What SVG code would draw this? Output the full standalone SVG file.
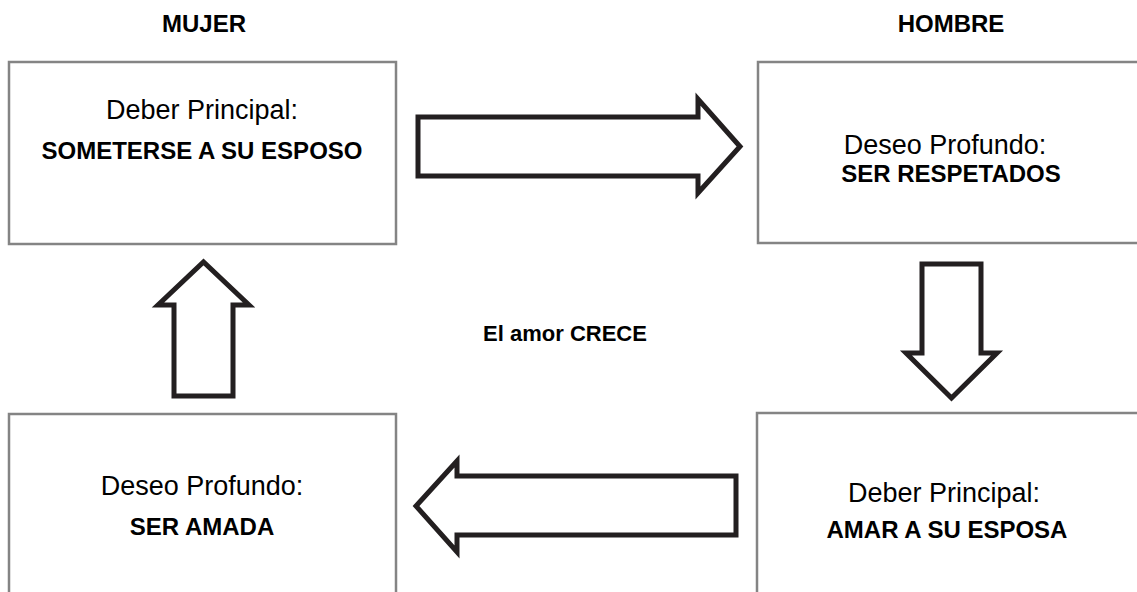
<svg xmlns="http://www.w3.org/2000/svg" width="1137" height="592" viewBox="0 0 1137 592">
<style>
.box{fill:#ffffff;stroke:#848484;stroke-width:2.5}
.arrow{fill:#ffffff;stroke:#231f20;stroke-width:5;stroke-linejoin:miter;stroke-miterlimit:10}
.hd{font-family:"Liberation Sans",Arial,sans-serif;font-weight:bold;font-size:24px;fill:#000;text-anchor:middle}
.reg{font-family:"Liberation Sans",Arial,sans-serif;font-size:27px;fill:#000;text-anchor:middle}
.bold{font-family:"Liberation Sans",Arial,sans-serif;font-weight:bold;font-size:24px;fill:#000;text-anchor:middle}
.mid{font-family:"Liberation Sans",Arial,sans-serif;font-weight:bold;font-size:22px;fill:#000;text-anchor:middle}
</style>
<rect width="1137" height="592" fill="#ffffff"/>
<text class="hd" x="204" y="32">MUJER</text>
<text class="hd" x="951" y="32">HOMBRE</text>
<g id="node-tl">
<rect class="box" x="9" y="62" width="387" height="182"/>
<text class="reg" x="202" y="119">Deber Principal:</text>
<text class="bold" x="202" y="159">SOMETERSE A SU ESPOSO</text>
</g>
<g id="node-tr">
<rect class="box" x="758" y="62" width="390" height="181"/>
<text class="reg" x="945" y="154">Deseo Profundo:</text>
<text class="bold" x="951" y="182">SER RESPETADOS</text>
</g>
<g id="node-bl">
<rect class="box" x="9" y="414" width="387" height="190"/>
<text class="reg" x="202" y="495">Deseo Profundo:</text>
<text class="bold" x="202" y="535">SER AMADA</text>
</g>
<g id="node-br">
<rect class="box" x="757" y="413" width="390" height="190"/>
<text class="reg" x="944" y="502">Deber Principal:</text>
<text class="bold" x="947" y="538">AMAR A SU ESPOSA</text>
</g>
<g id="center-label">
<text class="mid" x="565" y="341">El amor CRECE</text>
</g>
<g id="connectors">
<polygon class="arrow" points="418,117 698,117 698,99 740,146.5 698,193 698,176 418,176"/>
<polygon class="arrow" points="922,264 981,264 981,353 997,353 951.5,398 906,353 922,353"/>
<polygon class="arrow" points="736,476 457,476 457,461 416,506 457,552 457,535 736,535"/>
<polygon class="arrow" points="174,396 233,396 233,305 249,305 203.5,262 158,305 174,305"/>
</g>
</svg>
